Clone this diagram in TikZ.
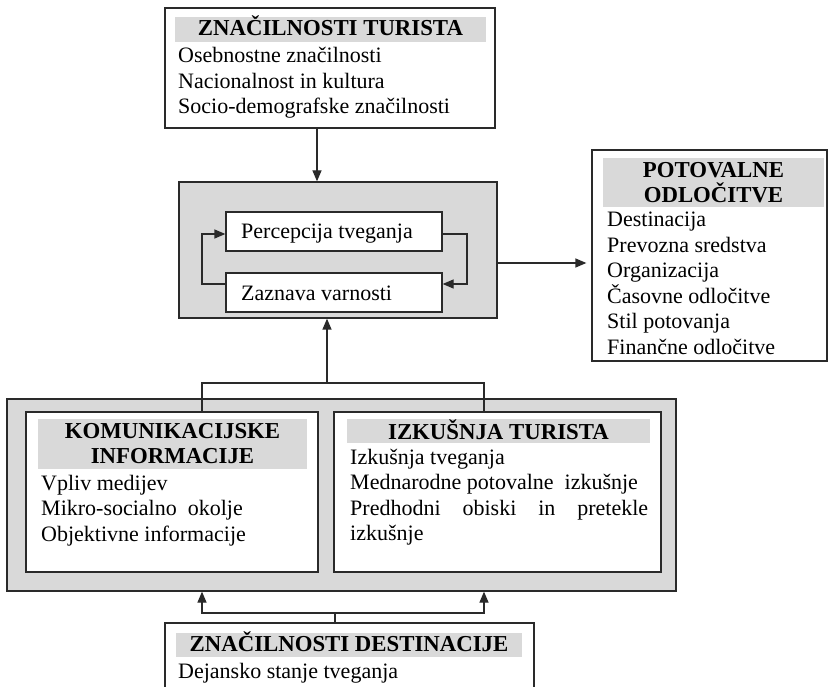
\documentclass[tikz,border=0pt]{standalone}
\usepackage{fontspec}
\setmainfont{Liberation Serif}
\usetikzlibrary{arrows.meta,calc}
\definecolor{panelgray}{HTML}{D9D9D9}
\definecolor{linecol}{HTML}{2A2A2A}
\begin{document}
\begin{tikzpicture}[x=1pt,y=-1pt,
  box/.style={draw=linecol,line width=1.3pt,fill=white,rectangle,inner sep=0pt},
  graybox/.style={draw=linecol,line width=1.3pt,fill=panelgray,rectangle,inner sep=0pt},
  band/.style={fill=panelgray,draw=none,rectangle,inner sep=0pt},
  txt/.style={anchor=base west,inner sep=0pt,font=\fontsize{22}{25}\selectfont},
  ttl/.style={anchor=base,inner sep=0pt,font=\fontsize{22.8}{25}\selectfont\bfseries},
  conn/.style={draw=linecol,line width=1.3pt},
  arr/.style={conn,-{Triangle[length=11pt,width=9pt]}}]
\clip (0,0) rectangle (828,687);
\useasboundingbox (0,0) rectangle (828,687);
\fill[white] (0,0) rectangle (828,687);

% top box
\node[box,minimum width=330pt,minimum height=120pt] (topbox) at (330,68) {};
\node[band,minimum width=311pt,minimum height=25pt] (topband) at (330.5,29.5) {};
\node[ttl] (toptitle) at (330.5,36) {ZNAČILNOSTI TURISTA};
\node[txt] (t1) at (178,63) {Osebnostne značilnosti};
\node[txt] (t2) at (178,88.5) {Nacionalnost in kultura};
\node[txt] (t3) at (178,114) {Socio-demografske značilnosti};

% core box
\node[graybox,minimum width=318pt,minimum height=136pt] (core) at (338,250) {};
\node[box,minimum width=216pt,minimum height=39pt] (perc) at (334,231.5) {};
\node[box,minimum width=216pt,minimum height=39pt] (zazn) at (334,292.5) {};
\node[txt] (ptext) at (241,239) {Percepcija tveganja};
\node[txt] (ztext) at (241,301) {Zaznava varnosti};

% decisions box
\node[box,minimum width=235pt,minimum height=211pt] (dec) at (709.5,255.5) {};
\node[band,minimum width=221pt,minimum height=49pt] (decband) at (713.5,182.5) {};
\node[ttl] (dtitle1) at (713.5,178) {POTOVALNE};
\node[ttl] (dtitle2) at (713.5,202.5) {ODLOČITVE};
\node[txt] (d1) at (607,227) {Destinacija};
\node[txt] (d2) at (607,252.4) {Prevozna sredstva};
\node[txt] (d3) at (607,277.8) {Organizacija};
\node[txt] (d4) at (607,303.2) {Časovne odločitve};
\node[txt] (d5) at (607,328.6) {Stil potovanja};
\node[txt] (d6) at (607,354) {Finančne odločitve};

% bottom panel
\node[graybox,minimum width=669pt,minimum height=192pt] (panel) at (341.5,495) {};
\node[box,minimum width=292pt,minimum height=160pt] (kom) at (172,492) {};
\node[band,minimum width=269pt,minimum height=50pt] (komband) at (172.5,444) {};
\node[ttl] (ktitle1) at (172.5,438) {KOMUNIKACIJSKE};
\node[ttl] (ktitle2) at (172.5,463) {INFORMACIJE};
\node[txt] (k1) at (41,490) {Vpliv medijev};
\node[txt] (k2) at (41,515.5) {Mikro-socialno\ \ okolje};
\node[txt] (k3) at (41,541) {Objektivne informacije};

\node[box,minimum width=327pt,minimum height=160pt] (izk) at (497.5,492) {};
\node[band,minimum width=303pt,minimum height=24pt] (izkband) at (498.5,431) {};
\node[ttl] (ititle) at (498.5,439) {IZKUŠNJA TURISTA};
\node[txt] (i1) at (350,464) {Izkušnja tveganja};
\node[txt] (i2) at (350,489.5) {Mednarodne potovalne\ \ izkušnje};
\node[txt] (i3) at (350,515) {\makebox[298pt][s]{Predhodni\hfill obiski\hfill in\hfill pretekle}};
\node[txt] (i4) at (350,540.5) {izkušnje};

% destination box
\node[box,minimum width=369pt,minimum height=87pt] (dest) at (349.5,666.5) {};
\node[band,minimum width=346pt,minimum height=24pt] (destband) at (349,645) {};
\node[ttl] (desttitle) at (349,651.5) {ZNAČILNOSTI DESTINACIJE};
\node[txt] (e1) at (178,678) {Dejansko stanje tveganja};

% connectors
\coordinate (xa) at (317,0);
\draw[arr] (topbox.south -| xa) -- (core.north -| xa);

\coordinate (ya) at (0,263);
\draw[arr,shorten >=5pt] (core.east |- ya) -- (dec.west |- ya);

\coordinate (yl1) at (0,284);
\coordinate (yl2) at (0,234);
\coordinate (lx) at (202,0);
\coordinate (rx) at (467,0);
\draw[arr] (zazn.west |- yl1) -| (lx |- yl2) -- (perc.west |- yl2);
\draw[arr] (perc.east |- yl2) -| (rx |- yl1) -- (zazn.east |- yl1);

\coordinate (j1) at (327,383);
\coordinate (bx1) at (202,0);
\coordinate (bx2) at (484,0);
\draw[conn] (kom.north -| bx1) |- (j1) -| (izk.north -| bx2);
\draw[arr] (j1) -- (core.south -| j1);

\coordinate (j2) at (335,613);
\draw[conn] (dest.north -| j2) -- (j2);
\draw[arr] (j2) -| (panel.south -| bx1);
\draw[arr] (j2) -| (panel.south -| bx2);
\end{tikzpicture}
\end{document}
